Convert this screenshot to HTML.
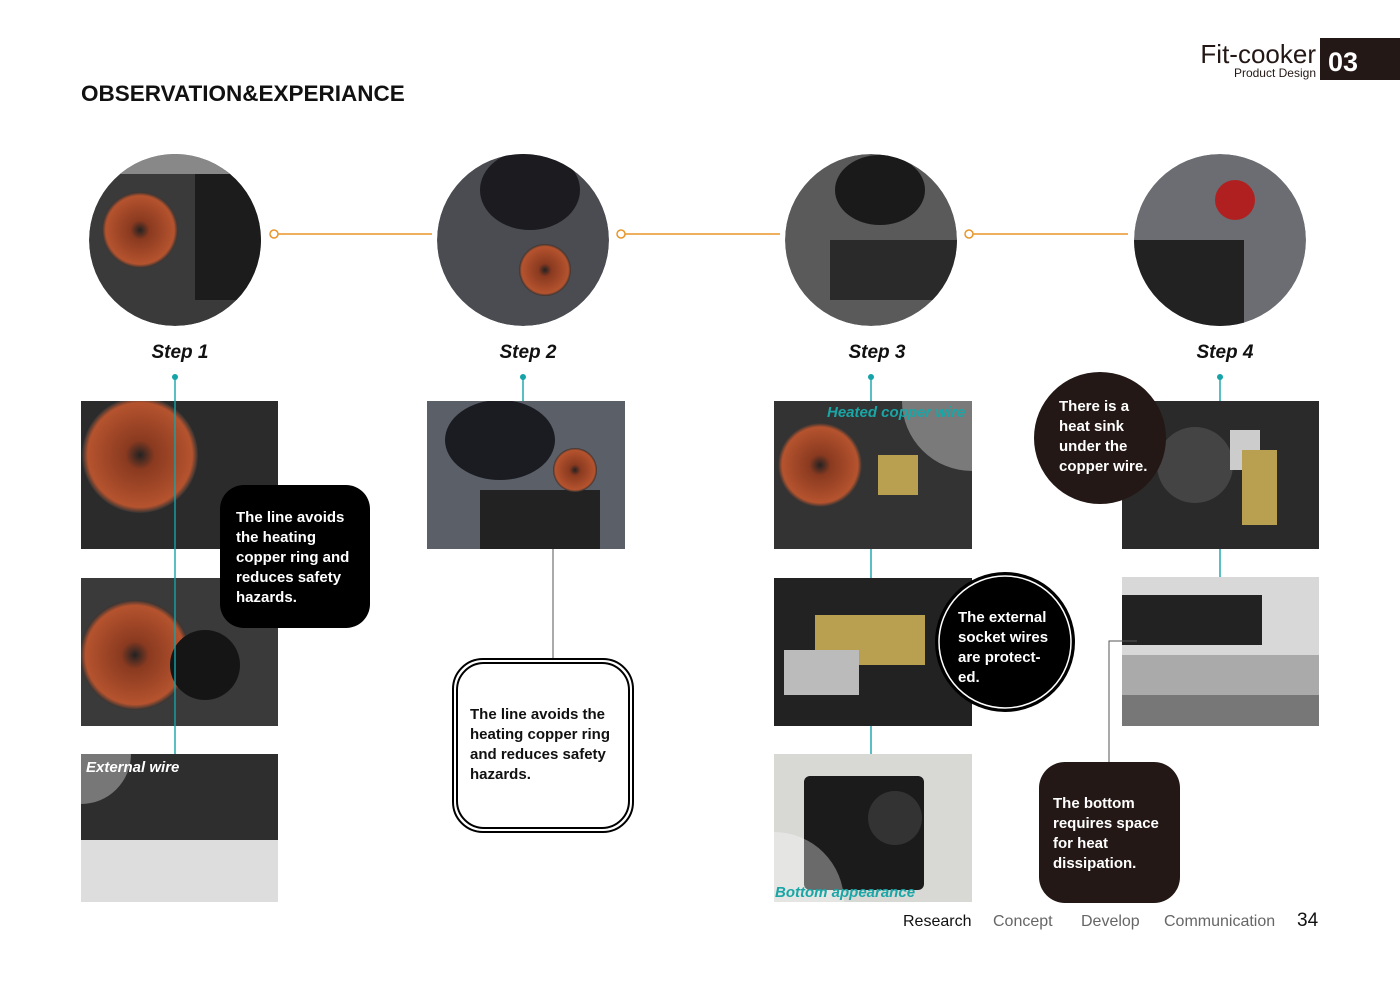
<!DOCTYPE html>
<html><head><meta charset="utf-8"><style>
body{margin:0;background:#fff;}
svg text{font-family:"Liberation Sans",sans-serif;}
</style></head><body>
<svg width="1400" height="990" viewBox="0 0 1400 990" xmlns="http://www.w3.org/2000/svg">
<defs>
<radialGradient id="cop" cx="50%" cy="50%" r="50%"><stop offset="0" stop-color="#222"/><stop offset="0.25" stop-color="#8a3a20"/><stop offset="0.9" stop-color="#b5532e"/><stop offset="1" stop-color="#333"/></radialGradient>
<clipPath id="p1"><rect x="81" y="401" width="197" height="148"/></clipPath>
<clipPath id="p2"><rect x="81" y="578" width="197" height="148"/></clipPath>
<clipPath id="p3"><rect x="81" y="754" width="197" height="148"/></clipPath>
<clipPath id="p4"><rect x="427" y="401" width="198" height="148"/></clipPath>
<clipPath id="p5"><rect x="774" y="401" width="198" height="148"/></clipPath>
<clipPath id="p6"><rect x="774" y="578" width="198" height="148"/></clipPath>
<clipPath id="p7"><rect x="774" y="754" width="198" height="148"/></clipPath>
<clipPath id="p8"><rect x="1122" y="401" width="197" height="148"/></clipPath>
<clipPath id="c1"><circle cx="175" cy="240" r="86"/></clipPath>
<clipPath id="c2"><circle cx="523" cy="240" r="86"/></clipPath>
<clipPath id="c3"><circle cx="871" cy="240" r="86"/></clipPath>
<clipPath id="c4"><circle cx="1220" cy="240" r="86"/></clipPath>
</defs>
<rect width="1400" height="990" fill="#fff"/>
<!-- header -->
<text x="81" y="101" font-size="22.5" font-weight="bold" fill="#111">OBSERVATION&amp;EXPERIANCE</text>
<text x="1316" y="63" font-size="26" text-anchor="end" fill="#231815">Fit-cooker</text>
<text x="1316" y="77" font-size="12" text-anchor="end" fill="#231815">Product Design</text>
<rect x="1320" y="38" width="80" height="42" fill="#231815"/>
<text x="1328" y="71" font-size="27" font-weight="bold" fill="#fff">03</text>

<!-- orange connectors -->
<g stroke="#e8962a" stroke-width="1.5" fill="#fff">
<line x1="278" y1="234" x2="432" y2="234"/><circle cx="274" cy="234" r="4"/>
<line x1="625" y1="234" x2="780" y2="234"/><circle cx="621" cy="234" r="4"/>
<line x1="973" y1="234" x2="1128" y2="234"/><circle cx="969" cy="234" r="4"/>
</g>
<!-- circles -->
<g clip-path="url(#c1)">
<circle cx="175" cy="240" r="86" fill="#3a3a3a"/>
<circle cx="140" cy="230" r="38" fill="url(#cop)"/>
<rect x="195" y="170" width="70" height="130" fill="#1c1c1c"/>
<rect x="89" y="154" width="172" height="20" fill="#888"/>
</g>
<g clip-path="url(#c2)">
<circle cx="523" cy="240" r="86" fill="#4a4c52"/>
<ellipse cx="530" cy="190" rx="50" ry="40" fill="#1b1b20"/>
<circle cx="545" cy="270" r="26" fill="url(#cop)"/>
</g>
<g clip-path="url(#c3)">
<circle cx="871" cy="240" r="86" fill="#5a5a5a"/>
<ellipse cx="880" cy="190" rx="45" ry="35" fill="#1a1a1a"/>
<rect x="830" y="240" width="130" height="60" fill="#2a2a2a"/>
</g>
<g clip-path="url(#c4)">
<circle cx="1220" cy="240" r="86" fill="#6b6d72"/>
<circle cx="1235" cy="200" r="20" fill="#b02020"/>
<rect x="1134" y="240" width="110" height="90" fill="#222"/>
</g>

<text x="180" y="358" font-size="19" font-weight="bold" font-style="italic" text-anchor="middle" fill="#111">Step 1</text>
<text x="528" y="358" font-size="19" font-weight="bold" font-style="italic" text-anchor="middle" fill="#111">Step 2</text>
<text x="877" y="358" font-size="19" font-weight="bold" font-style="italic" text-anchor="middle" fill="#111">Step 3</text>
<text x="1225" y="358" font-size="19" font-weight="bold" font-style="italic" text-anchor="middle" fill="#111">Step 4</text>

<!-- photos col1 -->
<g clip-path="url(#p1)"><rect x="81" y="401" width="197" height="148" fill="#2b2b2b"/>
<circle cx="140" cy="455" r="58" fill="url(#cop)"/></g>
<g clip-path="url(#p2)"><rect x="81" y="578" width="197" height="148" fill="#3a3a3a"/>
<circle cx="135" cy="655" r="55" fill="url(#cop)"/>
<circle cx="205" cy="665" r="35" fill="#151515"/></g>
<g clip-path="url(#p3)"><rect x="81" y="754" width="197" height="148" fill="#2e2e2e"/>
<rect x="81" y="840" width="197" height="62" fill="#ddd"/>
<circle cx="81" cy="754" r="50" fill="#fff" fill-opacity="0.35"/></g>
<text x="86" y="772" font-size="15" font-weight="bold" font-style="italic" fill="#fff">External wire</text>
<!-- col2 -->
<g clip-path="url(#p4)"><rect x="427" y="401" width="198" height="148" fill="#5a5f68"/>
<ellipse cx="500" cy="440" rx="55" ry="40" fill="#1b1b22"/>
<rect x="480" y="490" width="120" height="59" fill="#222"/>
<circle cx="575" cy="470" r="22" fill="url(#cop)"/></g>
<!-- col3 -->
<g clip-path="url(#p5)"><rect x="774" y="401" width="198" height="148" fill="#333"/>
<circle cx="820" cy="465" r="42" fill="url(#cop)"/>
<rect x="878" y="455" width="40" height="40" fill="#b9a050"/>
<circle cx="972" cy="401" r="70" fill="#fff" fill-opacity="0.35"/></g>
<text x="827" y="417" font-size="15" font-weight="bold" font-style="italic" fill="#1aa6a6">Heated copper wire</text>
<g clip-path="url(#p6)"><rect x="774" y="578" width="198" height="148" fill="#222"/>
<rect x="815" y="615" width="110" height="50" fill="#b9a050"/>
<rect x="784" y="650" width="75" height="45" fill="#bbb"/></g>
<g clip-path="url(#p7)"><rect x="774" y="754" width="198" height="148" fill="#d8d8d4"/>
<rect x="804" y="776" width="120" height="114" rx="6" fill="#1b1b1b"/>
<circle cx="895" cy="818" r="27" fill="#333"/>
<circle cx="774" cy="902" r="70" fill="#fff" fill-opacity="0.35"/></g>
<text x="775" y="897" font-size="15" font-weight="bold" font-style="italic" fill="#1aa6a6">Bottom appearance</text>
<!-- col4 -->
<g clip-path="url(#p8)"><rect x="1122" y="401" width="197" height="148" fill="#2a2a2a"/>
<circle cx="1195" cy="465" r="38" fill="#444"/>
<rect x="1230" y="430" width="30" height="40" fill="#ccc"/>
<rect x="1242" y="450" width="35" height="75" fill="#b9a050"/></g>
<rect x="1122" y="577" width="197" height="149" fill="#d8d8d8"/>
<rect x="1122" y="595" width="140" height="50" fill="#222"/>
<rect x="1122" y="655" width="197" height="40" fill="#aaa"/>
<rect x="1122" y="695" width="197" height="31" fill="#777"/>

<!-- teal lines -->
<g stroke="#14a3a8" stroke-width="1.4">
<line x1="175" y1="377" x2="175" y2="754"/>
<line x1="523" y1="377" x2="523" y2="401"/>
<line x1="871" y1="377" x2="871" y2="401"/>
<line x1="871" y1="549" x2="871" y2="578"/>
<line x1="871" y1="726" x2="871" y2="754"/>
<line x1="1220" y1="377" x2="1220" y2="401"/>
<line x1="1220" y1="549" x2="1220" y2="577"/>
</g>
<g fill="#14a3a8"><circle cx="175" cy="377" r="3"/><circle cx="523" cy="377" r="3"/><circle cx="871" cy="377" r="3"/><circle cx="1220" cy="377" r="3"/></g>
<g stroke="#555" stroke-width="1" fill="none">
<line x1="553" y1="549" x2="553" y2="659"/>
<polyline points="1137,641 1109,641 1109,762"/>
</g>

<!-- callouts -->
<rect x="220" y="485" width="150" height="143" rx="24" fill="#000"/>
<g font-size="15" fill="#fff" font-weight="bold"><text x="236" y="522">The line avoids</text><text x="236" y="542">the heating</text><text x="236" y="562">copper ring and</text><text x="236" y="582">reduces safety</text><text x="236" y="602">hazards.</text></g>

<rect x="453" y="659" width="180" height="173" rx="30" fill="#fff" stroke="#000" stroke-width="2"/>
<rect x="457" y="663" width="172" height="165" rx="27" fill="none" stroke="#000" stroke-width="2"/>
<g font-size="15" fill="#111" font-weight="bold"><text x="470" y="719">The line avoids the</text><text x="470" y="739">heating copper ring</text><text x="470" y="759">and reduces safety</text><text x="470" y="779">hazards.</text></g>

<circle cx="1005" cy="642" r="70" fill="#000"/>
<circle cx="1005" cy="642" r="66" fill="none" stroke="#fff" stroke-width="1.5"/>
<g font-size="15" fill="#fff" font-weight="bold"><text x="958" y="622">The external</text><text x="958" y="642">socket wires</text><text x="958" y="662">are protect-</text><text x="958" y="682">ed.</text></g>

<circle cx="1100" cy="438" r="66" fill="#231815"/>
<g font-size="15" fill="#fff" font-weight="bold"><text x="1059" y="411">There is a</text><text x="1059" y="431">heat sink</text><text x="1059" y="451">under the</text><text x="1059" y="471">copper wire.</text></g>

<rect x="1039" y="762" width="141" height="141" rx="26" fill="#231815"/>
<g font-size="15" fill="#fff" font-weight="bold"><text x="1053" y="808">The bottom</text><text x="1053" y="828">requires space</text><text x="1053" y="848">for heat</text><text x="1053" y="868">dissipation.</text></g>

<!-- footer -->
<g font-size="16" fill="#666"><text x="903" y="926" fill="#111">Research</text><text x="993" y="926">Concept</text><text x="1081" y="926">Develop</text><text x="1164" y="926">Communication</text></g>
<text x="1297" y="926" font-size="19" fill="#111">34</text>
</svg>
</body></html>
